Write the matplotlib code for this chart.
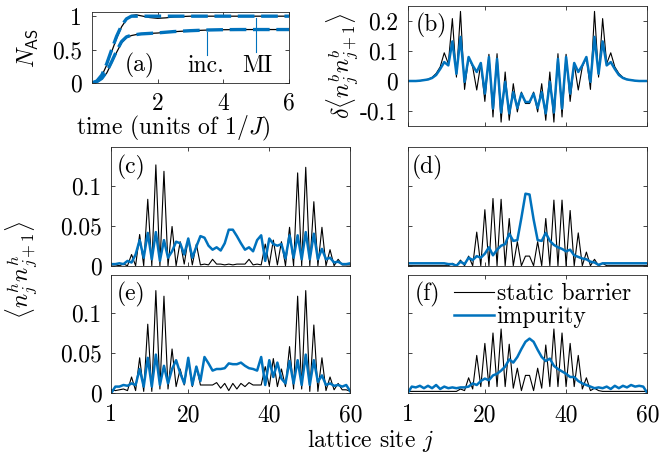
import matplotlib
matplotlib.use('Agg')
import matplotlib.pyplot as plt
import numpy as np
from matplotlib.ticker import FixedLocator, FixedFormatter

plt.rcParams['font.family'] = 'cmr10'
plt.rcParams['mathtext.fontset'] = 'cm'
plt.rcParams['axes.unicode_minus'] = False
plt.rcParams['axes.formatter.use_mathtext'] = True

BLUE = '#0072BD'
FS = 17

# ---- panel (a): atoms transferred vs time ----
t = [0, 0.15, 0.3, 0.45, 0.6, 0.75, 0.9, 1.05, 1.2, 1.35, 1.5, 1.75,
     2.0, 2.25, 2.5, 3.0, 3.5, 4.0, 4.5, 5.0, 5.5, 6.0]
mi_barrier = [0, 0.03, 0.11, 0.27, 0.47, 0.67, 0.84, 0.95, 1.01, 1.02, 1.005, 0.98,
              0.968, 0.975, 0.99, 1.0, 1.0, 1.0, 1.0, 1.0, 1.0, 1.0]
mi_impurity = [0, 0.03, 0.12, 0.29, 0.50, 0.70, 0.86, 0.96, 1.0, 1.0, 1.0, 1.0,
               1.0, 1.0, 1.0, 1.0, 1.0, 1.0, 1.0, 1.0, 1.0, 1.0]
inc_barrier = [0, 0.015, 0.06, 0.15, 0.30, 0.46, 0.60, 0.68, 0.71, 0.725, 0.735, 0.742,
               0.748, 0.758, 0.768, 0.782, 0.792, 0.797, 0.80, 0.80, 0.80, 0.80]
inc_impurity = [0, 0.02, 0.07, 0.17, 0.32, 0.48, 0.62, 0.69, 0.715, 0.725, 0.735, 0.742,
                0.75, 0.76, 0.77, 0.783, 0.793, 0.798, 0.80, 0.80, 0.80, 0.80]
# markers pointing at the two curves
inc_mark = (3.5, 0.42, 0.77)
mi_mark = (5.0, 0.47, 0.98)

# ---- lattice sites ----
sites = np.arange(1, 61)

# (b) difference of correlations
b_barrier = [0, 0, 0, 0.001, 0.003, 0.006, 0.012, 0.025, 0.047, 0.094,
             0.058, 0.208, 0.013, 0.232, -0.028, 0.080, 0.047, -0.030, 0.058, -0.068,
             0.089, -0.120, 0.091, -0.137, 0.030, -0.131, -0.009, -0.103, -0.037, -0.075,
             -0.075, -0.037, -0.103, -0.009, -0.131, 0.030, -0.137, 0.091, -0.120, 0.089,
             -0.068, 0.058, -0.030, 0.047, 0.080, -0.028, 0.232, 0.013, 0.208, 0.058,
             0.094, 0.047, 0.025, 0.012, 0.006, 0.003, 0.001, 0, 0, 0]
b_impurity = [0, 0, 0, 0.001, 0.003, 0.005, 0.010, 0.020, 0.040, 0.063,
              0.052, 0.132, 0.024, 0.147, -0.003, 0.080, 0.052, 0.030, 0.060, -0.042,
              0.080, -0.092, 0.074, -0.105, -0.003, -0.108, -0.037, -0.090, -0.042, -0.070,
              -0.070, -0.042, -0.090, -0.037, -0.108, -0.003, -0.105, 0.074, -0.092, 0.080,
              -0.042, 0.060, 0.030, 0.052, 0.080, -0.003, 0.147, 0.024, 0.132, 0.052,
              0.063, 0.040, 0.020, 0.010, 0.005, 0.003, 0.001, 0, 0, 0]

# (c)
c_barrier = [0.001, 0.001, 0.0, 0.002, 0.0, 0.014, 0.0, 0.039, 0.0, 0.083,
             0.0, 0.126, 0.0, 0.118, 0.0, 0.049, 0.0, 0.030, 0.002, 0.034,
             0.001, 0.027, 0.001, 0.002, 0.001, 0.008, 0.002, 0.002, 0.001, 0.002,
             0.001, 0.002, 0.002, 0.002, 0.008, 0.001, 0.002, 0.001, 0.027, 0.001,
             0.032, 0.001, 0.030, 0.0, 0.048, 0.0, 0.116, 0.0, 0.123, 0.0,
             0.080, 0.0, 0.048, 0.0, 0.020, 0.0, 0.008, 0.001, 0.001, 0.001]
c_impurity = [0.002, 0.002, 0.003, 0.002, 0.006, 0.004, 0.014, 0.032, 0.010, 0.041,
              0.008, 0.042, 0.006, 0.032, 0.010, 0.018, 0.030, 0.028, 0.014, 0.034,
              0.010, 0.024, 0.037, 0.035, 0.025, 0.020, 0.023, 0.019, 0.028, 0.045,
              0.045, 0.037, 0.028, 0.020, 0.023, 0.018, 0.032, 0.038, 0.006, 0.034,
              0.027, 0.025, 0.027, 0.009, 0.038, 0.010, 0.038, 0.008, 0.042, 0.008,
              0.040, 0.008, 0.021, 0.008, 0.010, 0.004, 0.005, 0.002, 0.002, 0.003]

# (d)
d_barrier = [0, 0, 0, 0, 0, 0, 0, 0, 0, 0,
             0, 0.003, 0.0, 0.007, 0.0, 0.012, 0.0, 0.042, 0.0, 0.070,
             0.0, 0.084, 0.0, 0.083, 0.0, 0.059, 0.0, 0.030, 0.0, 0.012,
             0.012, 0.0, 0.030, 0.0, 0.059, 0.0, 0.082, 0.0, 0.082, 0.0,
             0.069, 0.0, 0.041, 0.0, 0.017, 0.0, 0.008, 0.0, 0.003, 0,
             0, 0, 0, 0, 0, 0, 0, 0, 0, 0]
d_impurity = [0.003, 0.003, 0.003, 0.003, 0.003, 0.003, 0.003, 0.003, 0.003, 0.003,
              0.002, 0.002, 0.0, 0.005, 0.002, 0.010, 0.007, 0.012, 0.010, 0.015,
              0.023, 0.013, 0.020, 0.025, 0.027, 0.040, 0.031, 0.032, 0.060, 0.090,
              0.089, 0.058, 0.032, 0.031, 0.041, 0.031, 0.026, 0.023, 0.021, 0.018,
              0.020, 0.013, 0.011, 0.009, 0.008, 0.005, 0.004, 0.001, 0.003, 0.003,
              0.003, 0.003, 0.003, 0.003, 0.003, 0.003, 0.003, 0.003, 0.003, 0.003]

# (e)
e_barrier = [0.004, 0.003, 0.004, 0.005, 0.003, 0.020, 0.003, 0.044, 0.002, 0.086,
             0.002, 0.128, 0.005, 0.121, 0.005, 0.055, 0.008, 0.030, 0.010, 0.040,
             0.008, 0.033, 0.010, 0.010, 0.010, 0.010, 0.013, 0.006, 0.012, 0.003,
             0.012, 0.005, 0.012, 0.008, 0.013, 0.010, 0.010, 0.010, 0.033, 0.008,
             0.043, 0.008, 0.030, 0.008, 0.058, 0.005, 0.121, 0.005, 0.128, 0.002,
             0.085, 0.002, 0.044, 0.003, 0.020, 0.004, 0.012, 0.004, 0.004, 0.002]
e_impurity = [0.0, 0.008, 0.008, 0.010, 0.009, 0.012, 0.010, 0.030, 0.008, 0.044,
              0.008, 0.048, 0.010, 0.034, 0.012, 0.030, 0.041, 0.025, 0.012, 0.044,
              0.010, 0.033, 0.015, 0.045, 0.037, 0.028, 0.030, 0.030, 0.031, 0.037,
              0.036, 0.036, 0.038, 0.034, 0.031, 0.030, 0.028, 0.045, 0.010, 0.041,
              0.020, 0.038, 0.018, 0.012, 0.040, 0.012, 0.041, 0.010, 0.048, 0.010,
              0.041, 0.014, 0.022, 0.010, 0.012, 0.009, 0.010, 0.008, 0.010, 0.002]

# (f)
f_barrier = [0.002, 0.002, 0.002, 0.002, 0.002, 0.002, 0.002, 0.002, 0.002, 0.002,
             0.002, 0.002, 0.002, 0.005, 0.003, 0.019, 0.005, 0.047, 0.008, 0.062,
             0.008, 0.075, 0.008, 0.080, 0.008, 0.061, 0.006, 0.031, 0.003, 0.022,
             0.022, 0.003, 0.031, 0.006, 0.060, 0.008, 0.080, 0.008, 0.075, 0.008,
             0.062, 0.008, 0.047, 0.005, 0.019, 0.003, 0.006, 0.003, 0.002, 0.002,
             0.002, 0.002, 0.002, 0.002, 0.002, 0.002, 0.002, 0.002, 0.002, 0.002]
f_impurity = [0.0, 0.008, 0.007, 0.009, 0.006, 0.009, 0.006, 0.010, 0.005, 0.008,
              0.006, 0.007, 0.006, 0.007, 0.007, 0.008, 0.012, 0.010, 0.015, 0.018,
              0.016, 0.022, 0.024, 0.028, 0.033, 0.042, 0.038, 0.045, 0.055, 0.064,
              0.068, 0.064, 0.054, 0.045, 0.040, 0.043, 0.034, 0.030, 0.027, 0.024,
              0.020, 0.020, 0.015, 0.012, 0.010, 0.008, 0.006, 0.007, 0.006, 0.008,
              0.005, 0.009, 0.006, 0.009, 0.007, 0.010, 0.008, 0.009, 0.008, 0.0]

W, H = 661, 457


def box(l, r, t_, b):
    return [l / W, 1 - b / H, (r - l) / W, (b - t_) / H]


def px(x, y):
    return x / W, 1 - y / H


def style(ax, xt, xl, yt, yl, xpad=8, ypad=7):
    ax.tick_params(direction='in', top=True, right=True, length=3, width=0.6,
                   labelsize=FS, color='#262626')
    ax.tick_params(axis='x', pad=xpad)
    ax.tick_params(axis='y', pad=ypad)
    ax.xaxis.set_major_locator(FixedLocator(xt))
    ax.xaxis.set_major_formatter(FixedFormatter(xl))
    ax.yaxis.set_major_locator(FixedLocator(yt))
    ax.yaxis.set_major_formatter(FixedFormatter(yl))
    for s in ax.spines.values():
        s.set_linewidth(0.6)
        s.set_color('#262626')


fig = plt.figure(figsize=(W / 100, H / 100), dpi=100)

# panel (a)
ax = fig.add_axes(box(92, 289, 11.5, 83))
ax.plot(t, mi_barrier, color='k', lw=0.9)
ax.plot(t, inc_barrier, color='k', lw=0.9)
ax.plot(t, mi_impurity, color=BLUE, lw=2.4, dashes=(5, 2))
ax.plot(t, inc_impurity, color=BLUE, lw=2.4, dashes=(5, 2))
for xm, y0, y1 in (inc_mark, mi_mark):
    ax.plot([xm, xm], [y0, y1], color=BLUE, lw=0.8)
ax.text(1.45, 0.26, '(a)', fontsize=FS, ha='center', va='center')
ax.text(3.45, 0.26, 'inc.', fontsize=FS, ha='center', va='center')
ax.text(5.03, 0.26, 'MI', fontsize=FS, ha='center', va='center')
ax.set_xlim(0, 6)
ax.set_ylim(0, 1.07)
style(ax, [2, 4, 6], ['2', '4', '6'], [0, 0.5, 1], ['0', '0.5', '1'], xpad=7)
fig.text(*px(28, 48), r'$N_{\mathsf{AS}}$', rotation=90, fontsize=FS,
         ha='center', va='center')
fig.text(*px(173, 128), r'time (units of $1/J$)', fontsize=FS,
         ha='center', va='center')

# panel (b)
ax = fig.add_axes(box(407.7, 647.3, 6, 126))
ax.plot(sites, b_barrier, color='k', lw=0.8)
ax.plot(sites, b_impurity, color=BLUE, lw=1.8)
ax.set_xlim(1, 60)
ax.set_ylim(-0.15, 0.25)
style(ax, [1, 20, 40, 60], ['', '', '', ''], [-0.1, 0, 0.1, 0.2],
      ['-0.1', '0', '0.1', '0.2'])
ax.text(*px(431, 25), '(b)', transform=fig.transFigure, fontsize=FS,
        ha='center', va='center')
fig.text(*px(343, 66), r'$\delta\langle n_j^b n_{j+1}^b\rangle$', rotation=90,
         fontsize=FS, ha='center', va='center')

# panels (c)-(f)
panels = [
    ((111.3, 350.3, 147.3, 265.7), c_barrier, c_impurity, '(c)', False, True),
    ((407.7, 647.3, 147.3, 265.7), d_barrier, d_impurity, '(d)', False, False),
    ((111.3, 350.3, 274.6, 393.0), e_barrier, e_impurity, '(e)', True, True),
    ((407.7, 647.3, 274.6, 393.0), f_barrier, f_impurity, '(f)', True, False),
]
for (l, r, tp, bt), blk, blu, lab, showx, showy in panels:
    ax = fig.add_axes(box(l, r, tp, bt))
    hb, = ax.plot(sites, blk, color='k', lw=0.8, label='static barrier')
    hi, = ax.plot(sites, blu, color=BLUE, lw=1.8, label='impurity')
    ax.set_xlim(1, 60)
    ax.set_ylim(0, 0.148)
    xl = ['1', '20', '40', '60'] if showx else ['', '', '', '']
    yl = ['0', '0.05', '0.1'] if showy else ['', '', '']
    style(ax, [1, 20, 40, 60], xl, [0, 0.05, 0.1], yl)
    ax.text(*px(l + 20, tp + 20), lab, transform=fig.transFigure, fontsize=FS,
            ha='center', va='center')
    if lab == '(f)':
        ax.legend(handles=[hb, hi], loc='upper left',
                  bbox_to_anchor=px(454, 283), bbox_transform=fig.transFigure,
                  frameon=False, fontsize=FS, handlelength=1.7,
                  handletextpad=0.1, labelspacing=0.05, borderpad=0,
                  borderaxespad=0)

fig.text(*px(22, 270), r'$\langle n_j^h n_{j+1}^h\rangle$', rotation=90,
         fontsize=FS, ha='center', va='center')
fig.text(*px(370, 440), r'lattice site $j$', fontsize=FS, ha='center', va='center')

fig.savefig('out.png', dpi=100)
